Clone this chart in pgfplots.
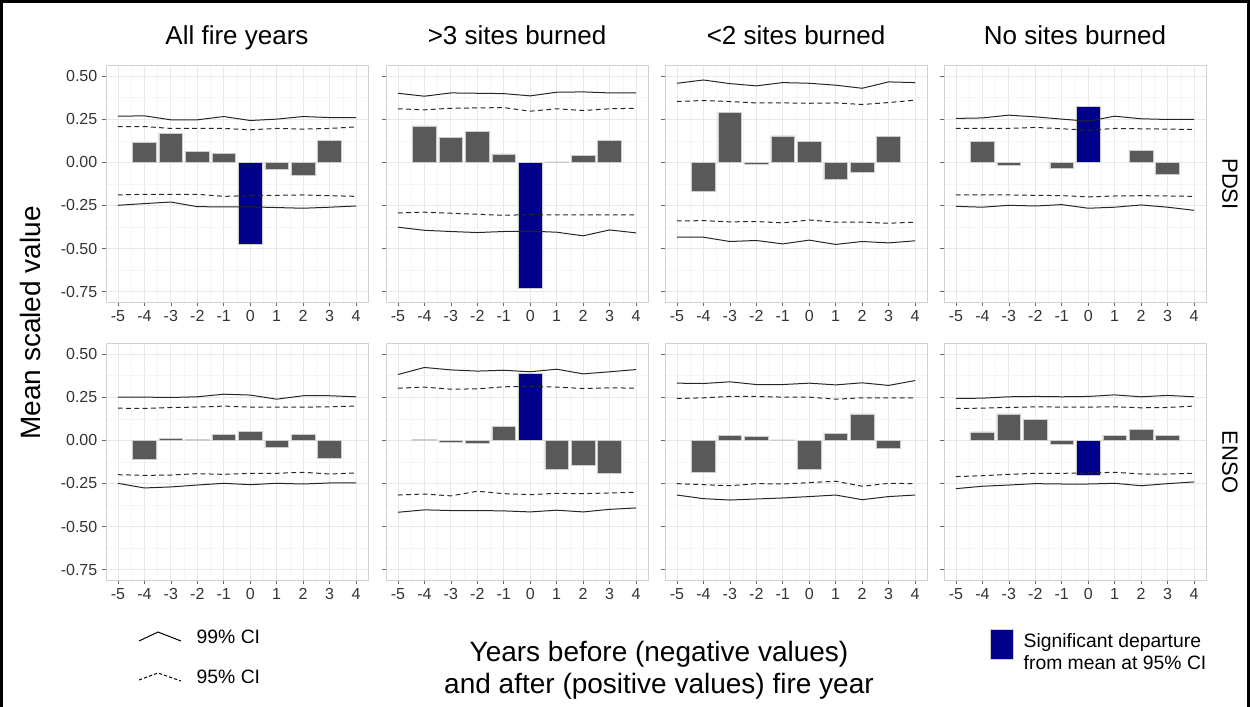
\documentclass[border=0pt]{standalone}
\usepackage{fontspec}
\setmainfont{Liberation Sans}
\usepackage{pgfplots}
\usepackage{pgfplotstable}
\pgfplotsset{compat=1.18}
\definecolor{barg}{HTML}{595959}
\definecolor{sig}{HTML}{00008B}

% columns: year, upper 99%, upper 95%, lower 95%, lower 99%
\pgfplotstableread{
x u99 u95 l95 l99
-5 0.268 0.208 -0.189 -0.249
-4 0.270 0.208 -0.185 -0.239
-3 0.247 0.197 -0.185 -0.230
-2 0.247 0.197 -0.185 -0.257
-1 0.266 0.197 -0.197 -0.258
0 0.243 0.189 -0.193 -0.258
1 0.251 0.197 -0.191 -0.262
2 0.266 0.193 -0.189 -0.266
3 0.260 0.197 -0.193 -0.260
4 0.260 0.206 -0.197 -0.253
}\pA
\pgfplotstableread{
x u99 u95 l95 l99
-5 0.401 0.311 -0.293 -0.376
-4 0.384 0.305 -0.289 -0.394
-3 0.403 0.314 -0.295 -0.401
-2 0.401 0.316 -0.301 -0.407
-1 0.399 0.318 -0.307 -0.401
0 0.386 0.297 -0.303 -0.399
1 0.407 0.311 -0.305 -0.405
2 0.409 0.301 -0.305 -0.426
3 0.403 0.311 -0.305 -0.392
4 0.403 0.314 -0.305 -0.409
}\pB
\pgfplotstableread{
x u99 u95 l95 l99
-5 0.459 0.353 -0.340 -0.434
-4 0.478 0.359 -0.338 -0.434
-3 0.457 0.353 -0.345 -0.459
-2 0.444 0.345 -0.343 -0.453
-1 0.463 0.345 -0.351 -0.473
0 0.459 0.343 -0.334 -0.451
1 0.448 0.345 -0.347 -0.476
2 0.430 0.336 -0.347 -0.459
3 0.467 0.347 -0.353 -0.467
4 0.463 0.361 -0.347 -0.455
}\pC
\pgfplotstableread{
x u99 u95 l95 l99
-5 0.255 0.197 -0.189 -0.255
-4 0.258 0.197 -0.189 -0.260
-3 0.274 0.197 -0.189 -0.249
-2 0.264 0.203 -0.191 -0.253
-1 0.251 0.195 -0.193 -0.245
0 0.239 0.187 -0.200 -0.266
1 0.268 0.197 -0.195 -0.260
2 0.253 0.195 -0.193 -0.247
3 0.249 0.193 -0.195 -0.260
4 0.249 0.191 -0.197 -0.278
}\pD
\pgfplotstableread{
x u99 u95 l95 l99
-5 0.251 0.187 -0.199 -0.249
-4 0.251 0.185 -0.203 -0.276
-3 0.249 0.191 -0.201 -0.270
-2 0.253 0.193 -0.193 -0.259
-1 0.268 0.199 -0.197 -0.249
0 0.263 0.193 -0.191 -0.257
1 0.239 0.193 -0.191 -0.249
2 0.259 0.193 -0.185 -0.253
3 0.259 0.195 -0.195 -0.247
4 0.253 0.199 -0.189 -0.247
}\pE
\pgfplotstableread{
x u99 u95 l95 l99
-5 0.382 0.303 -0.317 -0.417
-4 0.423 0.309 -0.311 -0.403
-3 0.409 0.297 -0.322 -0.407
-2 0.402 0.299 -0.295 -0.407
-1 0.407 0.311 -0.309 -0.409
0 0.398 0.313 -0.315 -0.415
1 0.413 0.309 -0.307 -0.405
2 0.386 0.301 -0.309 -0.415
3 0.398 0.305 -0.305 -0.400
4 0.411 0.303 -0.301 -0.392
}\pF
\pgfplotstableread{
x u99 u95 l95 l99
-5 0.332 0.243 -0.251 -0.317
-4 0.330 0.247 -0.257 -0.338
-3 0.340 0.255 -0.263 -0.346
-2 0.324 0.255 -0.251 -0.340
-1 0.324 0.251 -0.253 -0.334
0 0.332 0.251 -0.245 -0.326
1 0.322 0.239 -0.237 -0.317
2 0.334 0.247 -0.266 -0.344
3 0.319 0.247 -0.249 -0.326
4 0.347 0.247 -0.251 -0.317
}\pG
\pgfplotstableread{
x u99 u95 l95 l99
-5 0.243 0.185 -0.210 -0.280
-4 0.245 0.187 -0.205 -0.266
-3 0.253 0.191 -0.197 -0.259
-2 0.255 0.195 -0.191 -0.251
-1 0.253 0.193 -0.191 -0.253
0 0.255 0.193 -0.189 -0.253
1 0.264 0.195 -0.185 -0.249
2 0.253 0.189 -0.195 -0.263
3 0.261 0.191 -0.195 -0.251
4 0.253 0.199 -0.191 -0.241
}\pH

\pgfplotsset{
  panel/.style={
    width=196.5pt, height=177.75pt, scale only axis, anchor=north west,
    xmin=-5.45, xmax=4.45, ymin=-0.81, ymax=0.565,
    xtick={-5,-4,-3,-2,-1,0,1,2,3,4},
    xticklabels={-5,-4,-3,-2,-1,0,1,2,3,4},
    ytick={-0.75,-0.5,-0.25,0,0.25,0.5},
    yticklabels={-0.75,-0.50,-0.25,0.00,0.25,0.50},
    minor xtick={-4.5,-3.5,-2.5,-1.5,-0.5,0.5,1.5,2.5,3.5},
    minor ytick={-0.625,-0.375,-0.125,0.125,0.375},
    grid=both,
    major grid style={black!9, line width=0.6pt},
    minor grid style={black!4, line width=0.4pt},
    axis line style={black!18, line width=0.7pt},
    xtick pos=bottom, ytick pos=left,
    tick align=outside, major tick length=3pt, minor tick length=0pt,
    tick style={black!60, line width=0.5pt},
    ticklabel style={font=\fontsize{12}{14}\selectfont, text=black!80},
    xticklabel style={yshift=0.5pt},
  },
  greybar/.style={ybar, bar width=0.9, bar shift=0pt, fill=barg, draw=black!20, line width=0.4pt},
  bluebar/.style={ybar, bar width=0.9, bar shift=0pt, fill=sig, draw=black!20, line width=0.4pt},
  ci99/.style={black!85, line width=0.75pt, mark=none},
  ci95/.style={black!85, line width=0.75pt, mark=none, dash pattern=on 3.6pt off 2.6pt},
}

% #1 left (px), #2 top (px), #3 table, #4 bar plots, #5 extra axis options
\newcommand{\panel}[5]{%
\begin{axis}[panel, at={(#1*0.75pt,-#2*0.75pt)}, #5]
#4
\addplot[ci99] table[x=x,y=u99]{#3};
\addplot[ci95] table[x=x,y=u95]{#3};
\addplot[ci95] table[x=x,y=l95]{#3};
\addplot[ci99] table[x=x,y=l99]{#3};
\end{axis}}

\begin{document}
\begin{tikzpicture}
\useasboundingbox (0,0) rectangle (937.5pt,-530.25pt);

% ---- PDSI row ----
\panel{106}{65}{\pA}{%
\addplot[greybar] coordinates {(-4,0.118) (-3,0.168) (-2,0.062) (-1,0.054) (1,-0.042) (2,-0.077) (3,0.129)};
\addplot[bluebar] coordinates {(0,-0.476)};}{}
\panel{386}{65}{\pB}{%
\addplot[greybar] coordinates {(-4,0.212) (-3,0.143) (-2,0.181) (-1,0.050) (1,0.003) (2,0.042) (3,0.129)};
\addplot[bluebar] coordinates {(0,-0.729)};}{yticklabels={}}
\panel{665}{65}{\pC}{%
\addplot[greybar] coordinates {(-4,-0.168) (-3,0.291) (-2,-0.012) (-1,0.154) (0,0.120) (1,-0.100) (2,-0.056) (3,0.152)};}{yticklabels={}}
\panel{944}{65}{\pD}{%
\addplot[greybar] coordinates {(-4,0.122) (-3,-0.015) (-1,-0.037) (2,0.069) (3,-0.071)};
\addplot[bluebar] coordinates {(0,0.326)};}{yticklabels={}}

% ---- ENSO row ----
\panel{106}{343}{\pE}{%
\addplot[greybar] coordinates {(-4,-0.108) (-3,0.010) (-2,0.004) (-1,0.035) (0,0.054) (1,-0.041) (2,0.033) (3,-0.106)};}{}
\panel{386}{343}{\pF}{%
\addplot[greybar] coordinates {(-4,0.005) (-3,-0.008) (-2,-0.019) (-1,0.081) (1,-0.170) (2,-0.147) (3,-0.191)};
\addplot[bluebar] coordinates {(0,0.388)};}{yticklabels={}}
\panel{665}{343}{\pG}{%
\addplot[greybar] coordinates {(-4,-0.187) (-3,0.027) (-2,0.023) (-1,0.003) (0,-0.170) (1,0.042) (2,0.154) (3,-0.048)};}{yticklabels={}}
\panel{944}{343}{\pH}{%
\addplot[greybar] coordinates {(-4,0.050) (-3,0.154) (-2,0.120) (-1,-0.025) (1,0.031) (2,0.066) (3,0.027)};
\addplot[bluebar] coordinates {(0,-0.205)};}{yticklabels={}}

\begin{scope}[x=0.75pt,y=-0.75pt]
% frame
\draw[black, line width=2.2pt] (1.5,707) -- (1.5,1.5) -- (1248.5,1.5) -- (1248.5,707);
% column titles
\begin{scope}[every node/.style={font=\fontsize{19.5}{22}\selectfont, text=black, anchor=base}]
\node at (237,44) {All fire years};
\node at (517,44) {>3 sites burned};
\node at (796,44) {<2 sites burned};
\node at (1075,44) {No sites burned};
\end{scope}
% strip labels
\node[rotate=-90, font=\fontsize{16.5}{19}\selectfont] at (1230,184) {PDSI};
\node[rotate=-90, font=\fontsize{16.5}{19}\selectfont] at (1230,462) {ENSO};
% y label
\node[rotate=90, font=\fontsize{21}{24}\selectfont] at (30,323) {Mean scaled value};
% x label
\node[align=center, font=\fontsize{21}{24}\selectfont] at (659,670)
  {Years before (negative values)\\and after (positive values) fire year};
% CI legend
\draw[black, line width=0.75pt] (139,641) -- (158,632) -- (181,641);
\node[anchor=west, font=\fontsize{14.5}{17}\selectfont] at (192,637) {99\% CI};
\draw[black, line width=0.75pt, dash pattern=on 2.4pt off 1.6pt] (139,680) -- (158,673) -- (181,681);
\node[anchor=west, font=\fontsize{14.5}{17}\selectfont] at (192,677) {95\% CI};
% significance legend
\filldraw[fill=sig, draw=black!20, line width=0.4pt] (990,629) rectangle (1013,659);
\node[anchor=west, align=left, font=\fontsize{14.5}{16.5}\selectfont] at (1019,652)
  {Significant departure\\from mean at 95\% CI};
\end{scope}
\end{tikzpicture}
\end{document}
